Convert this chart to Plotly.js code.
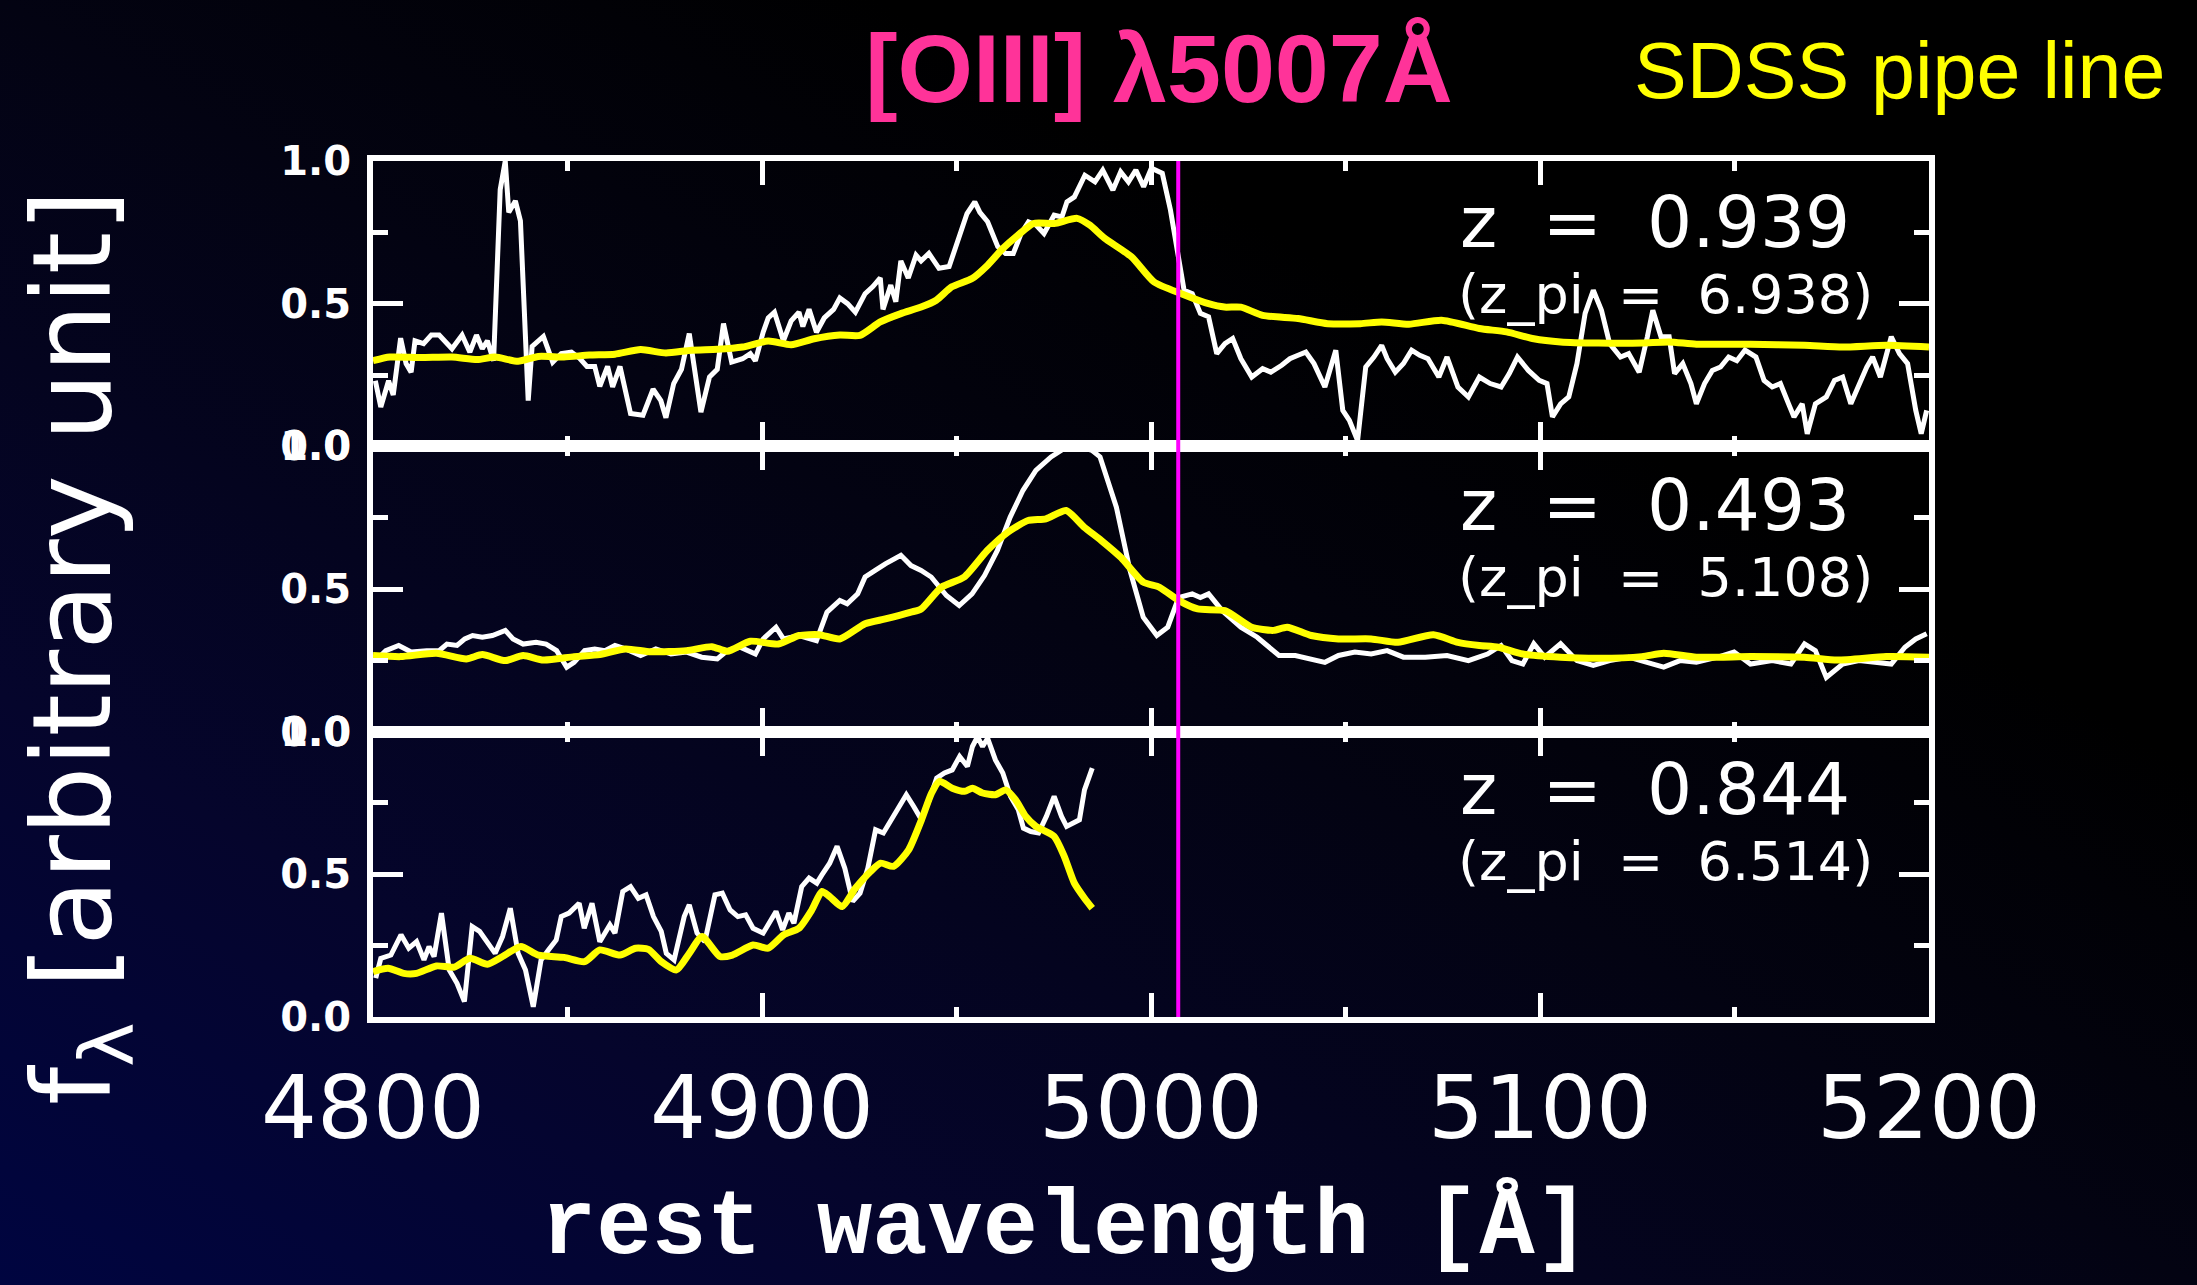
<!DOCTYPE html>
<html>
<head>
<meta charset="utf-8">
<script src="https://cdn.plot.ly/plotly-3.0.1.min.js"></script>
<style>
  html, body { margin: 0; padding: 0; width: 2197px; height: 1285px; overflow: hidden;
    background: linear-gradient(to top right, #000540 0%, #05052c 23%, #030312 50%, #000000 70%); }
  #chart { width: 2197px; height: 1285px; }
</style>
</head>
<body>
<div id="chart"></div>
<script>
// ---------- data ----------
// Panel 1 : z = 0.939
const wave1 = [4800.6,4802,4804,4805.2,4807.1,4808.5,4809.8,4810.8,4813,4815,4817,4818.3,4820.3,4822.9,4824.9,4826.6,4828.1,4829.4,4831,4832.7,4834,4834.9,4836.6,4837.9,4839.9,4840.9,4842.5,4843.8,4846.2,4848.4,4851,4853,4855,4857,4858.3,4860.3,4861.6,4863.5,4866.2,4869.4,4872,4874,4875.3,4877.3,4879.3,4881.3,4884.3,4886.5,4888.5,4890.1,4892.2,4895,4897,4898.3,4900.3,4901.6,4903.2,4905.5,4907.5,4909.5,4910.5,4912.1,4914,4916,4918.4,4920,4922,4924,4926.5,4928.5,4930.4,4931.1,4933.1,4934.4,4935.7,4937.6,4939.6,4940.9,4942.9,4945.5,4948.1,4950.8,4952.7,4954.7,4956,4958,4960.6,4962.6,4964.6,4966.6,4968.5,4970.5,4972.5,4975.1,4977.1,4978.4,4980.3,4983,4985.6,4987.6,4990.2,4992.2,4994.2,4996.1,4998.1,5000.1,5002.9,5005,5007.1,5008.5,5010.6,5012.7,5014.8,5016.9,5019,5021,5023.1,5025.9,5028.7,5030.8,5033.6,5035.7,5037.8,5039.8,5041.9,5044.7,5047.5,5049.3,5051,5053.1,5055.2,5057.3,5059.3,5060.7,5062.8,5064.9,5067,5069.1,5071.2,5074,5076.1,5078.9,5081.6,5084.4,5087.2,5090,5092.1,5094.2,5097,5099.8,5101.8,5103.2,5105.3,5107.4,5109.5,5111.6,5113.7,5115.8,5117.9,5120.7,5122.8,5125.5,5127.6,5129,5131.1,5133.2,5134.6,5136.7,5138.8,5140.2,5142.3,5144.3,5146.4,5148.5,5150.6,5152.7,5155.5,5157.6,5159.7,5161.8,5163.9,5165.3,5167.4,5168.7,5170.8,5173.6,5175.7,5177.8,5179.9,5182,5184,5185.5,5187.5,5190.3,5192.4,5194.5,5196.6,5198,5199.4];
const flux1 = [0.23,0.138,0.23,0.18,0.379,0.29,0.26,0.37,0.36,0.39,0.39,0.37,0.342,0.39,0.33,0.39,0.342,0.37,0.30,0.90,1.0,0.82,0.86,0.79,0.16,0.35,0.37,0.385,0.295,0.325,0.33,0.31,0.28,0.28,0.21,0.28,0.208,0.28,0.115,0.109,0.20,0.16,0.10,0.22,0.27,0.395,0.12,0.243,0.27,0.43,0.295,0.307,0.325,0.30,0.40,0.45,0.47,0.37,0.44,0.47,0.42,0.48,0.40,0.45,0.48,0.52,0.50,0.47,0.535,0.56,0.59,0.48,0.565,0.507,0.65,0.59,0.67,0.65,0.676,0.624,0.63,0.746,0.816,0.857,0.82,0.787,0.70,0.676,0.676,0.746,0.787,0.775,0.746,0.81,0.804,0.857,0.874,0.95,0.927,0.968,0.898,0.962,0.927,0.968,0.91,0.975,0.957,0.828,0.653,0.547,0.535,0.466,0.454,0.325,0.36,0.378,0.307,0.243,0.272,0.26,0.284,0.307,0.319,0.33,0.29,0.208,0.337,0.126,0.091,0.02,0.278,0.313,0.354,0.307,0.26,0.29,0.337,0.319,0.307,0.243,0.313,0.208,0.173,0.243,0.22,0.208,0.255,0.313,0.266,0.231,0.22,0.103,0.149,0.173,0.29,0.466,0.547,0.477,0.36,0.313,0.325,0.26,0.384,0.477,0.384,0.384,0.255,0.29,0.22,0.149,0.22,0.266,0.278,0.313,0.30,0.337,0.313,0.231,0.208,0.22,0.149,0.103,0.149,0.044,0.149,0.173,0.231,0.243,0.149,0.22,0.278,0.313,0.243,0.384,0.325,0.29,0.126,0.044,0.126];
const pipeWave1 = [4800,4804.3,4812.3,4820.3,4826.8,4831.4,4837.3,4842.5,4849.1,4855.6,4862.2,4868.8,4875.3,4881.9,4888.5,4895,4901.6,4907.5,4913.4,4920,4925.2,4930.4,4935.7,4940.9,4944.8,4948.8,4954,4958,4961.9,4965.8,4969.8,4975.1,4981,4984.3,4988,4995,5000.8,5007.8,5014.8,5018.9,5023.1,5028.7,5037.8,5045.4,5053.8,5059.3,5066.3,5074.7,5084.4,5091.4,5098.4,5105.3,5115.1,5126.2,5133.2,5140.2,5154.1,5168,5177.8,5189,5200];
const pipeFlux1 = [0.30,0.313,0.311,0.313,0.304,0.313,0.298,0.315,0.313,0.32,0.323,0.339,0.327,0.337,0.34,0.348,0.369,0.356,0.377,0.39,0.389,0.436,0.465,0.488,0.512,0.559,0.588,0.635,0.693,0.74,0.781,0.781,0.799,0.775,0.73,0.664,0.576,0.535,0.50,0.488,0.488,0.459,0.448,0.43,0.43,0.436,0.428,0.442,0.413,0.401,0.377,0.366,0.362,0.362,0.366,0.358,0.358,0.354,0.348,0.354,0.348];

// Panel 2 : z = 0.493
const wave2 = [4800.7,4803.3,4806.6,4809.8,4813.8,4817,4819,4821.6,4823.6,4825.6,4828.1,4830.7,4834,4836,4838.6,4841.9,4844.5,4847.2,4849.8,4851.7,4854.4,4857,4859.6,4862.2,4864.9,4868.8,4872.7,4876.6,4880.6,4884.5,4888.5,4891.1,4894.4,4898.3,4900.3,4903.6,4905.5,4909.5,4914,4916.7,4920,4921.9,4924.6,4926.5,4929.1,4931.7,4935.7,4938.3,4940.9,4943.5,4947.4,4950.7,4954,4957.2,4960.5,4963.8,4967.1,4970.4,4974.3,4977.6,4981.5,4984.8,4986.9,4991.1,4994.6,4998,5001.5,5004.3,5007.1,5010.6,5012.7,5014.8,5018.3,5023.1,5027.3,5032.9,5037.1,5041.2,5044.7,5048.2,5052.4,5056.6,5060.7,5064.9,5070.5,5076.1,5081.6,5086.5,5090,5092.8,5095.6,5098.4,5101.2,5105.3,5109.5,5113.7,5117.9,5122.8,5126.2,5131.8,5136,5140.2,5145.7,5149.9,5154.1,5159.7,5164.5,5168,5170.8,5173.6,5177.8,5182,5186.1,5190.3,5193.8,5196.6,5199.4];
const flux2 = [0.249,0.284,0.302,0.279,0.284,0.284,0.307,0.302,0.325,0.337,0.331,0.337,0.355,0.325,0.307,0.313,0.307,0.284,0.226,0.243,0.284,0.29,0.284,0.302,0.29,0.267,0.29,0.272,0.279,0.261,0.255,0.284,0.296,0.272,0.325,0.366,0.325,0.337,0.319,0.419,0.46,0.448,0.483,0.542,0.565,0.588,0.618,0.582,0.565,0.542,0.477,0.442,0.483,0.547,0.635,0.752,0.846,0.916,0.963,0.992,1.0,0.986,0.963,0.787,0.565,0.401,0.337,0.366,0.47,0.483,0.47,0.483,0.424,0.366,0.331,0.267,0.267,0.255,0.243,0.267,0.279,0.272,0.284,0.261,0.261,0.267,0.249,0.272,0.302,0.249,0.237,0.308,0.261,0.308,0.249,0.232,0.249,0.261,0.249,0.226,0.249,0.243,0.261,0.279,0.237,0.249,0.237,0.308,0.284,0.19,0.237,0.249,0.243,0.237,0.296,0.325,0.343];
const pipeWave2 = [4800,4807.1,4816.3,4824,4828.1,4834,4838.6,4843.8,4851.7,4858.3,4864.9,4871.4,4880.6,4887.1,4891.1,4897,4904.2,4909.5,4914.7,4920,4926.5,4931.7,4938.3,4940.9,4946.1,4952,4957.9,4963.2,4968.4,4973,4978.2,4982.8,4987.2,4992.3,4998,5002.2,5007.1,5012,5019,5025.9,5031.5,5035,5041.2,5048.2,5056.6,5063.5,5072.6,5078.9,5084.4,5089.3,5095.6,5105.3,5115.1,5126.2,5131.8,5140.2,5154.1,5168,5176.4,5189,5200];
const pipeFlux2 = [0.267,0.263,0.275,0.255,0.27,0.249,0.267,0.251,0.263,0.27,0.29,0.28,0.284,0.298,0.282,0.317,0.307,0.337,0.34,0.325,0.378,0.395,0.419,0.43,0.506,0.542,0.635,0.699,0.74,0.746,0.775,0.717,0.67,0.61,0.524,0.506,0.46,0.43,0.424,0.366,0.355,0.366,0.337,0.325,0.325,0.313,0.34,0.313,0.302,0.296,0.272,0.261,0.257,0.263,0.275,0.261,0.263,0.261,0.251,0.263,0.261];

// Panel 3 : z = 0.844
const wave3 = [4800.7,4802,4804.6,4807.2,4809.2,4811.2,4813.1,4814.4,4815.7,4817.6,4819.6,4821.6,4823.5,4825.5,4827.4,4829.4,4831.4,4833.3,4835.3,4837.3,4839.2,4841.2,4843.2,4845.1,4847.1,4848.4,4850.4,4853,4854.3,4856.3,4858.3,4860.9,4862.2,4864.2,4866.2,4868.2,4870.2,4872.1,4874.1,4875.4,4877.4,4880,4881.3,4883.3,4885.3,4887.9,4889.8,4891.8,4893.8,4895.8,4897.7,4900.3,4902.3,4903.6,4905.3,4906.9,4908.2,4910.2,4912.1,4914.1,4915.4,4917.4,4919.3,4921.3,4923.3,4925.2,4927.2,4929.2,4931.2,4933.1,4935.7,4937.1,4939,4941,4943,4944.9,4946.9,4948.9,4950.8,4952.8,4954.1,4955.4,4956.7,4958,4960,4961.9,4963.9,4965.9,4967.2,4969.1,4971.1,4973.1,4975.1,4977,4978.3,4980.3,4981.6,4982.9,4984.9];
const flux3 = [0.136,0.205,0.217,0.288,0.241,0.264,0.2,0.247,0.212,0.364,0.165,0.118,0.054,0.317,0.3,0.264,0.223,0.282,0.381,0.223,0.165,0.036,0.2,0.235,0.27,0.352,0.364,0.399,0.311,0.399,0.264,0.323,0.294,0.44,0.457,0.416,0.428,0.352,0.3,0.223,0.2,0.352,0.393,0.294,0.264,0.428,0.434,0.375,0.352,0.358,0.311,0.294,0.34,0.37,0.305,0.364,0.329,0.457,0.487,0.469,0.498,0.539,0.598,0.521,0.405,0.434,0.521,0.656,0.645,0.691,0.75,0.779,0.738,0.691,0.761,0.837,0.855,0.866,0.913,0.878,0.948,0.983,0.948,0.977,0.901,0.855,0.773,0.726,0.662,0.65,0.645,0.703,0.773,0.703,0.668,0.68,0.691,0.796,0.872];
const pipeWave3 = [4800,4803.9,4807.9,4811.2,4816.3,4820.9,4824.9,4829.4,4833.3,4838,4842.5,4849.1,4854.4,4858.3,4863.5,4867.5,4870.8,4874.1,4878,4881.3,4884.6,4889.2,4892.4,4897.7,4901.6,4905.6,4909.5,4912.8,4915.4,4917.4,4920.6,4924,4927.9,4930.5,4933.8,4937.7,4941,4943.6,4945.6,4948.9,4952.1,4954.1,4956.7,4960,4962.6,4965.2,4967.8,4970.4,4975.1,4977.7,4980.3,4982.9,4984.9];
const pipeFlux3 = [0.159,0.171,0.153,0.153,0.179,0.175,0.206,0.185,0.212,0.247,0.217,0.209,0.194,0.235,0.217,0.241,0.237,0.194,0.165,0.223,0.282,0.212,0.217,0.252,0.241,0.288,0.311,0.375,0.44,0.422,0.387,0.451,0.51,0.539,0.528,0.586,0.691,0.785,0.826,0.802,0.791,0.802,0.785,0.779,0.796,0.761,0.703,0.668,0.633,0.563,0.469,0.416,0.381];

const redshifts = ["0.939", "0.493", "0.844"];
const photoZ = ["6.938", "5.108", "6.514"];
const lineWave = 5007;
const xTickVals = [4800, 4900, 5000, 5100, 5200];
const yTickVals = [0, 0.5, 1];
const yTickText = ["0.0", "0.5", "1.0"];

// ---------- styling ----------
const WHITE = '#ffffff', YELLOW = '#ffff00', PINK = '#ff3399', MAGENTA = '#ff00ff';
const waves = [wave1, wave2, wave3], fluxes = [flux1, flux2, flux3];
const pWaves = [pipeWave1, pipeWave2, pipeWave3], pFluxes = [pipeFlux1, pipeFlux2, pipeFlux3];
const axSuffix = ['', '2', '3'];

const traces = [];
for (let i = 0; i < 3; i++) {
  traces.push({x: waves[i], y: fluxes[i], type: 'scatter', mode: 'lines',
    xaxis: 'x' + axSuffix[i], yaxis: 'y' + axSuffix[i],
    line: {color: WHITE, width: 5}, hoverinfo: 'skip', showlegend: false});
  traces.push({x: pWaves[i], y: pFluxes[i], type: 'scatter', mode: 'lines',
    xaxis: 'x' + axSuffix[i], yaxis: 'y' + axSuffix[i],
    line: {color: YELLOW, width: 7, shape: 'spline', smoothing: 0.6}, hoverinfo: 'skip', showlegend: false});
}

function xAxis(i, labels) {
  return {
    range: [4800, 5200], anchor: 'y' + axSuffix[i], matches: i === 2 ? undefined : 'x3',
    tickvals: xTickVals, ticktext: xTickVals.map(String), showticklabels: labels,
    ticks: 'inside', ticklen: 24, tickwidth: 5, tickcolor: WHITE,
    minor: {dtick: 50, tick0: 4800, ticks: 'inside', ticklen: 10, tickwidth: 5, tickcolor: WHITE, showgrid: false},
    showline: true, linecolor: WHITE, linewidth: 6, mirror: 'allticks',
    showgrid: false, zeroline: false,
    tickfont: {family: 'DejaVu Sans', size: 88, color: WHITE},
    ticklabelstandoff: 9
  };
}
function yAxis(i, domain) {
  return {
    range: [0, 1], domain: domain, anchor: 'x' + axSuffix[i],
    tickvals: yTickVals, ticktext: yTickText,
    ticks: 'inside', ticklen: 30, tickwidth: 5, tickcolor: WHITE,
    minor: {dtick: 0.25, tick0: 0, ticks: 'inside', ticklen: 15, tickwidth: 5, tickcolor: WHITE, showgrid: false},
    showline: true, linecolor: WHITE, linewidth: 6, mirror: 'allticks',
    showgrid: false, zeroline: false,
    tickfont: {family: 'DejaVu Sans', size: 40, color: WHITE, weight: 'bold'},
    ticklabelstandoff: 8
  };
}

const T = 161, B = 1017, L = 373, R = 1929;
const px = X => (X - L) / (R - L);
const py = Y => (B - Y) / (B - T);

const annotations = [];
const zY = [222, 505, 789], zpY = [294, 577, 861];
for (let i = 0; i < 3; i++) {
  annotations.push({xref: 'paper', yref: 'paper', x: px(1458), y: py(zY[i]), xanchor: 'left', yanchor: 'middle',
    text: 'z\u00a0\u00a0=\u00a0\u00a0' + redshifts[i], showarrow: false,
    font: {family: 'DejaVu Sans', size: 71, color: WHITE}});
  annotations.push({xref: 'paper', yref: 'paper', x: px(1456), y: py(zpY[i]), xanchor: 'left', yanchor: 'middle',
    text: '(z_pi\u00a0\u00a0=\u00a0\u00a0' + photoZ[i] + ')', showarrow: false,
    font: {family: 'DejaVu Sans', size: 54, color: WHITE}});
}
annotations.push({xref: 'paper', yref: 'paper', x: px(1899), y: py(71), xanchor: 'center', yanchor: 'middle',
  text: 'SDSS pipe line', showarrow: false,
  font: {family: 'Liberation Sans, Arial', size: 79, color: YELLOW}});
annotations.push({xref: 'paper', yref: 'paper', x: px(1065), y: py(1228), xanchor: 'center', yanchor: 'middle',
  text: 'rest wavelength [Å]', showarrow: false,
  font: {family: 'Liberation Mono', size: 92, color: WHITE, weight: 'bold'}});
annotations.push({xref: 'paper', yref: 'paper', x: px(80), y: py(648), xanchor: 'center', yanchor: 'middle',
  text: 'f<sub>λ</sub> [arbitrary unit]', showarrow: false, textangle: -90,
  font: {family: 'DejaVu Sans', size: 108, color: WHITE}});

const layout = {
  width: 2197, height: 1285,
  margin: {l: L, r: 2197 - R, t: T, b: 1285 - B, pad: 0},
  paper_bgcolor: 'rgba(0,0,0,0)', plot_bgcolor: 'rgba(0,0,0,0)',
  title: {text: '[OIII] λ5007Å', x: 1159 / 2197, y: 1 - 68 / 1285, xref: 'container', yref: 'container',
    xanchor: 'center', yanchor: 'middle',
    font: {family: 'Liberation Sans, Arial', size: 97, color: PINK, weight: 'bold'}},
  xaxis: xAxis(0, false), xaxis2: xAxis(1, false), xaxis3: xAxis(2, true),
  yaxis: yAxis(0, [2/3, 1]), yaxis2: yAxis(1, [1/3, 2/3]), yaxis3: yAxis(2, [0, 1/3]),
  shapes: [{type: 'line', xref: 'x', yref: 'paper', x0: lineWave, x1: lineWave, y0: 0, y1: 1,
    line: {color: MAGENTA, width: 4}, layer: 'above'}],
  annotations: annotations,
  showlegend: false
};

Plotly.newPlot('chart', traces, layout, {displayModeBar: false, staticPlot: true});
</script>
</body>
</html>
